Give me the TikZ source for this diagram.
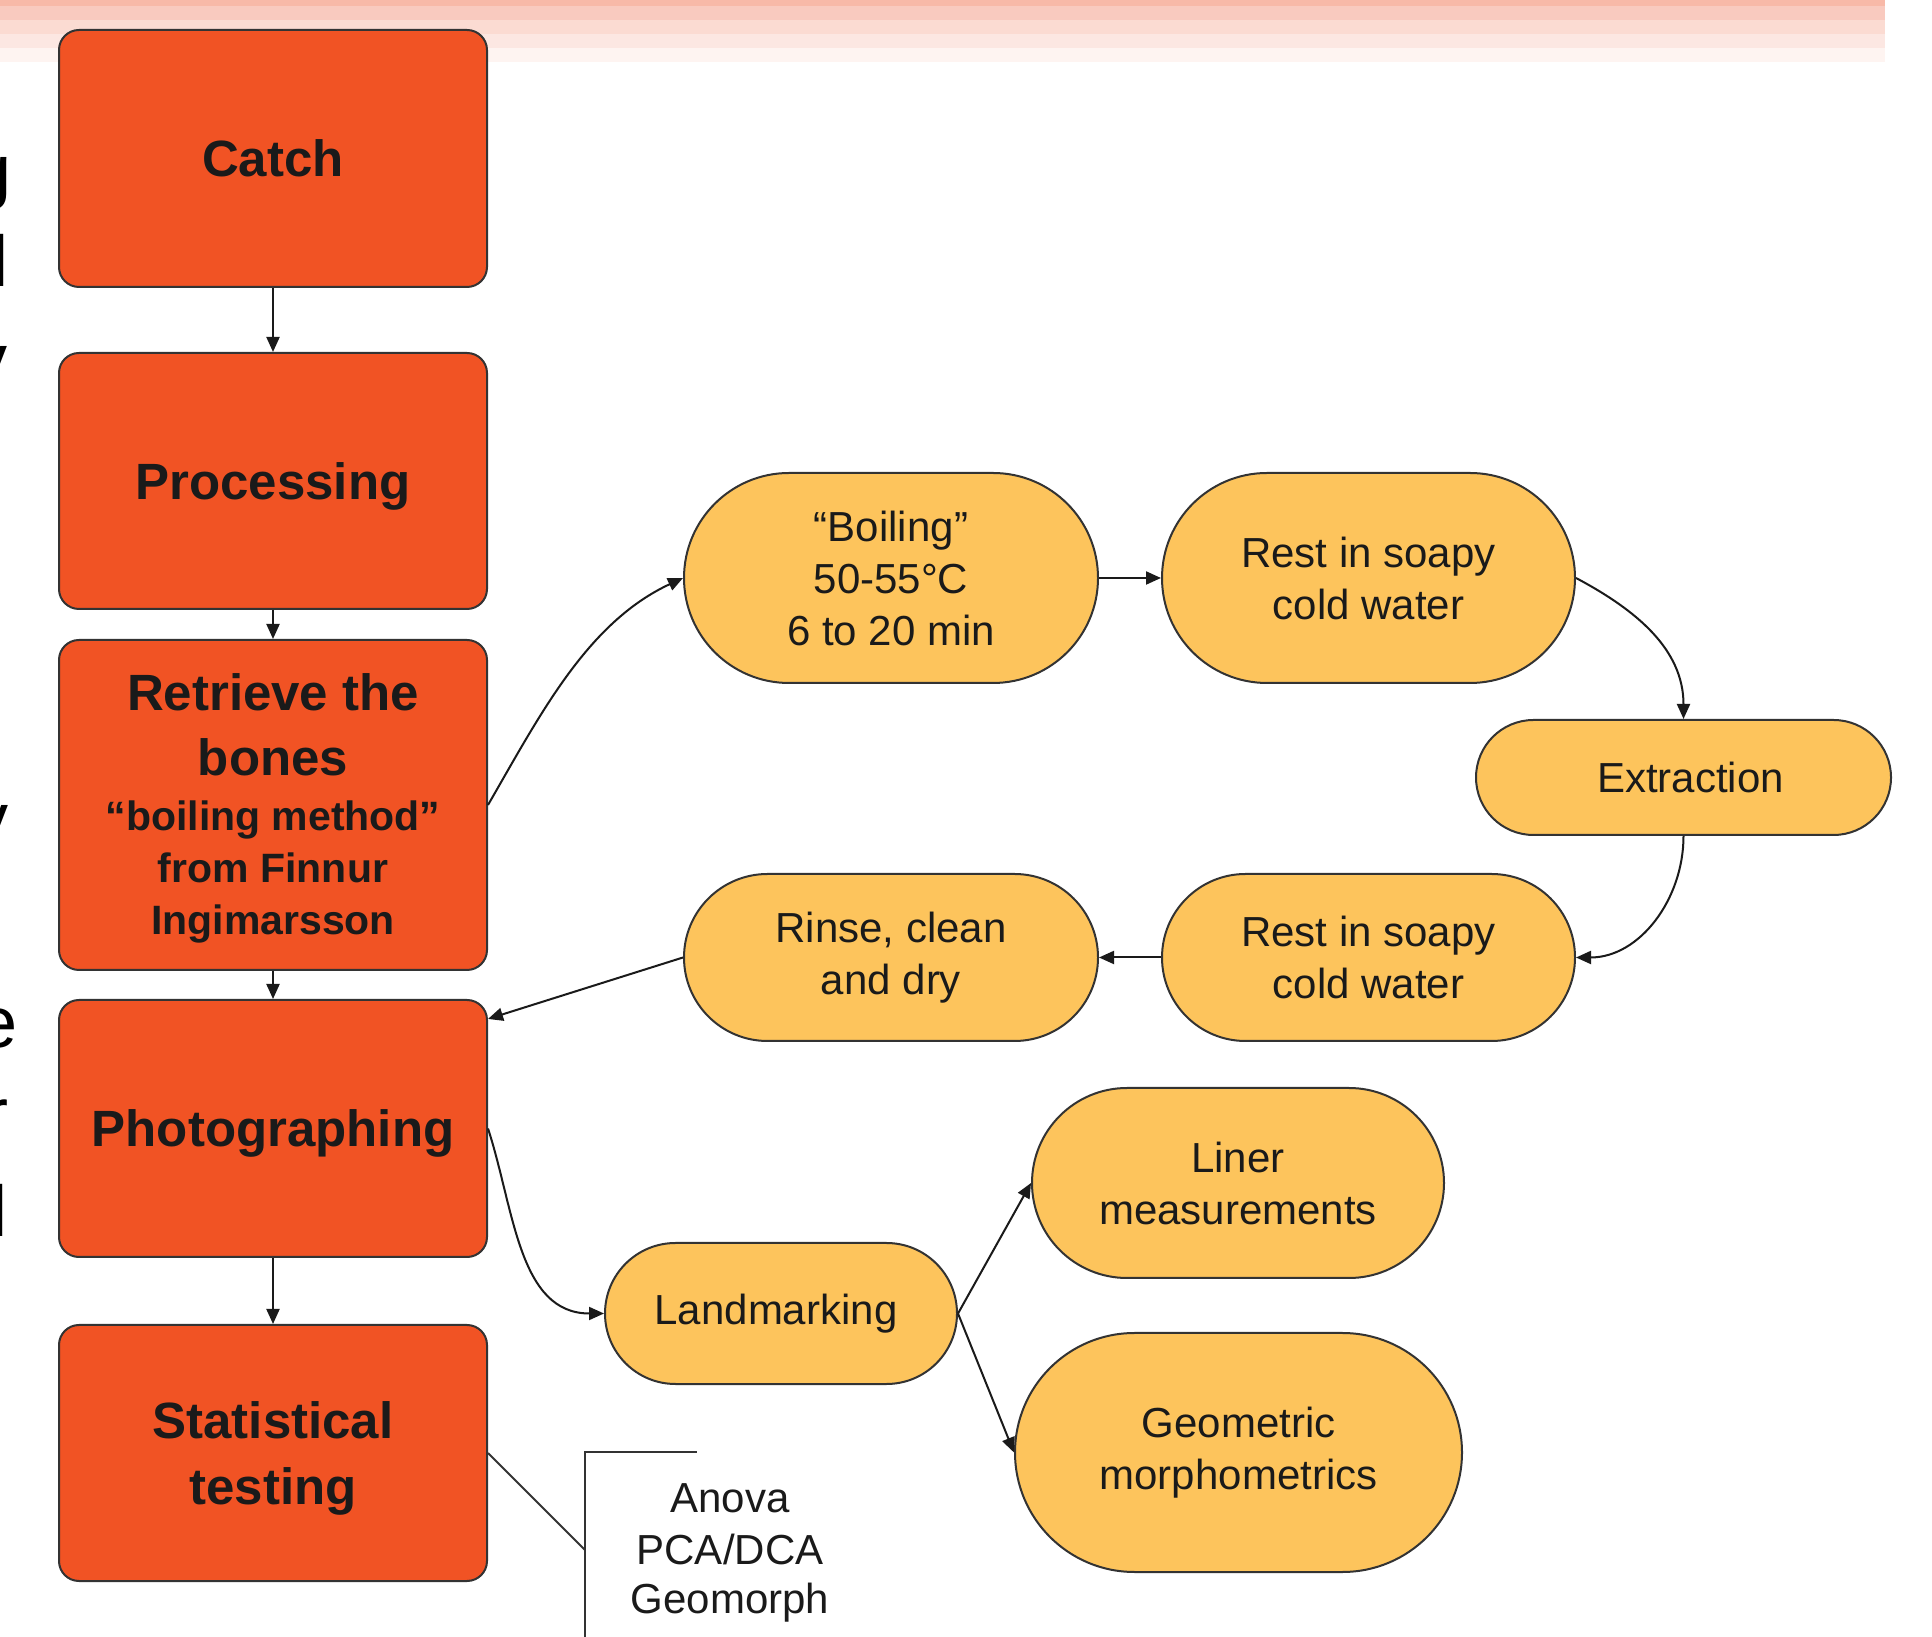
\documentclass[tikz,border=0pt]{standalone}
\usepackage{fontspec}
\setmainfont{Liberation Sans}
\usetikzlibrary{arrows.meta,shapes.misc}
\definecolor{orangefill}{RGB}{241,83,36}
\definecolor{yellowfill}{RGB}{253,196,92}
\definecolor{edgecol}{RGB}{51,51,51}
\definecolor{ink}{RGB}{26,26,26}
\definecolor{bandA}{RGB}{248,185,168}
\definecolor{bandB}{RGB}{249,202,191}
\definecolor{bandC}{RGB}{251,219,210}
\definecolor{bandD}{RGB}{252,231,226}
\definecolor{bandE}{RGB}{254,244,241}
\begin{document}
\begin{tikzpicture}[x=1pt,y=1pt,
  obox/.style={draw=edgecol, line width=2pt, fill=orangefill, rounded corners=20pt,
    minimum width=428pt, inner sep=0pt, align=center, text=ink, text depth=0pt,
    font=\bfseries\fontsize{51}{66}\selectfont},
  otext/.style={text=ink, inner sep=0pt, anchor=base},
  ybox/.style={rounded rectangle, draw=edgecol, line width=2pt, fill=yellowfill,
    inner sep=0pt, align=center, text=ink, font=\fontsize{42}{52}\selectfont},
  conn/.style={draw=ink, line width=2pt, -{Triangle[length=15pt,width=13pt]}},
  plain/.style={draw=edgecol, line width=2pt},
  frag/.style={anchor=base east, inner sep=0pt, text=black, font=\fontsize{72}{86}\selectfont},
  anno/.style={anchor=base, inner sep=0pt, text=ink, font=\fontsize{42}{52}\selectfont}]
\useasboundingbox (0,0) rectangle (1932,1636);
\fill[white] (0,0) rectangle (1932,1636);
% top bands
\fill[bandA] (0,1630) rectangle (1885,1636);
\fill[bandB] (0,1616) rectangle (1885,1630);
\fill[bandC] (0,1602) rectangle (1885,1616);
\fill[bandD] (0,1588) rectangle (1885,1602);
\fill[bandE] (0,1574) rectangle (1885,1588);
% cut-off text at the left edge
\node[frag] (fa) at (12,1440) {g};
\node[frag] (fb) at (9,1349) {l};
\node[frag] (fc) at (8,1251) {y};
\node[frag] (fd) at (9,792) {y};
\node[frag] (fe) at (18,588) {e};
\node[frag] (ff) at (9,497) {r};
\node[frag] (fg) at (8,399) {l};
% orange column
\node[obox, minimum height=257pt] (catch) at (273,1477.5) {Catch};
\node[obox, minimum height=256pt] (processing) at (273,1155) {Processing};
\node[obox, minimum height=330pt] (retrieve) at (273,831) {};
\node[otext, font=\bfseries\fontsize{51}{65}\selectfont] (rt1) at (273,925) {Retrieve the};
\node[otext, font=\bfseries\fontsize{51}{65}\selectfont] (rt2) at (273,860) {bones};
\node[otext, font=\bfseries\fontsize{41}{52}\selectfont] (rt3) at (273,805) {“boiling method”};
\node[otext, font=\bfseries\fontsize{41}{52}\selectfont] (rt4) at (273,753) {from Finnur};
\node[otext, font=\bfseries\fontsize{41}{52}\selectfont] (rt5) at (273,701) {Ingimarsson};
\node[obox, minimum height=257pt] (photo) at (273,507.5) {Photographing};
\node[obox, minimum height=256pt] (stat) at (273,183) {Statistical\\testing};
% yellow nodes
\node[ybox, minimum width=414pt, minimum height=210pt] (boiling) at (891,1058) {“Boiling”\\50-55°C\\6 to 20 min};
\node[ybox, minimum width=413pt, minimum height=210pt] (rest1) at (1368.5,1058) {Rest in soapy\\cold water};
\node[ybox, minimum width=415pt, minimum height=115pt, text width=400pt, align=center] (extraction) at (1683.5,858.5) {\hspace*{14pt}Extraction};
\node[ybox, minimum width=413pt, minimum height=167pt] (rest2) at (1368.5,678.5) {Rest in soapy\\cold water};
\node[ybox, minimum width=414pt, minimum height=167pt] (rinse) at (891,678.5) {Rinse, clean\\and dry};
\node[ybox, minimum width=352pt, minimum height=141pt, text width=340pt, align=center] (landmark) at (781,322.5) {Landmarking\hspace*{10pt}};
\node[ybox, minimum width=412pt, minimum height=190pt] (liner) at (1238,453) {Liner\\measurements};
\node[ybox, minimum width=447pt, minimum height=239pt] (geometric) at (1238.5,183.5) {Geometric\\morphometrics};
% connectors
\draw[conn] (catch.south) -- (processing.north);
\draw[conn] (processing.south) -- (retrieve.north);
\draw[conn] (retrieve.south) -- (photo.north);
\draw[conn] (photo.south) -- (stat.north);
\draw[conn] (retrieve.east) to[out=60,in=205,looseness=0.9] (boiling.west);
\draw[conn] (boiling.east) -- (rest1.west);
\draw[conn] (rest1.east) to[out=-28,in=90] (extraction.north);
\draw[conn] (extraction.south) to[out=-90,in=0] (rest2.east);
\draw[conn] (rest2.west) -- (rinse.east);
\draw[conn] (rinse.west) -- (photo.27);
\draw[conn] (photo.east) to[out=-72,in=180] (landmark.west);
\draw[conn] (landmark.east) -- (liner.west);
\draw[conn] (landmark.east) -- (geometric.west);
% annotation bracket
\coordinate (brmid) at (585,86);
\coordinate (brtop) at (585,184);
\coordinate (brbot) at (585,-5);
\coordinate (brend) at (697,184);
\draw[plain] (stat.east) -- (brmid);
\draw[plain] (brbot) -- (brtop) -- (brend);
\node[anno] (an1) at (730,124) {Anova};
\node[anno] (an2) at (730,72) {PCA/DCA};
\node[anno] (an3) at (730,23) {Geomorph};
\end{tikzpicture}
\end{document}
